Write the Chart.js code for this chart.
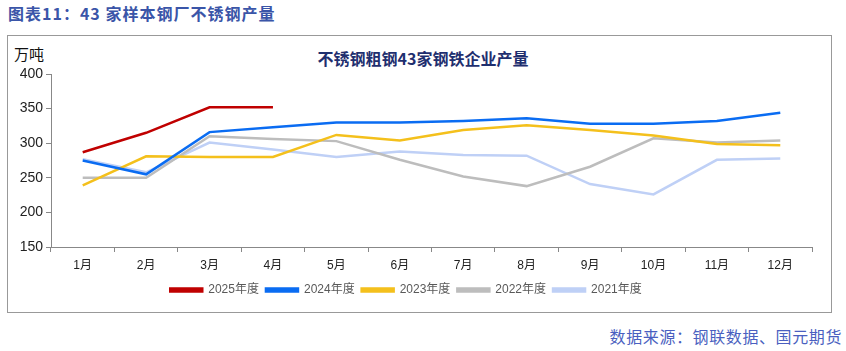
<!DOCTYPE html>
<html>
<head>
<meta charset="utf-8">
<script src="https://cdn.jsdelivr.net/npm/chart.js@4"></script>
<style>
  body { margin: 0; background: #fff; width: 846px; height: 351px; position: relative; overflow: hidden; }
  #fig-title { position: absolute; left: 8px; top: 1px; font: bold 16px "Noto Sans CJK SC"; color: #3a55a8; letter-spacing: 1px; }
  #box { position: absolute; left: 7px; top: 35px; width: 823px; height: 276px; border: 1px solid #999; }
  #chart-title { position: absolute; left: 0; width: 846px; top: 46px; text-align: center; font: bold 16px "Noto Sans CJK SC"; color: #1f2f6f; }
  #unit { position: absolute; left: 14px; top: 43px; font: 15px "Noto Sans CJK SC"; color: #111; }
  #source { position: absolute; right: 4px; top: 324px; font: 16px "Noto Sans CJK SC"; color: #4a5fc0; letter-spacing: 0.6px; }
  canvas { position: absolute; left: 0; top: 0; }
</style>
</head>
<body>
<div id="fig-title">图表11：43 家样本钢厂不锈钢产量</div>
<div id="box"></div>
<div id="chart-title">不锈钢粗钢43家钢铁企业产量</div>
<div id="unit">万吨</div>
<div id="source">数据来源：钢联数据、国元期货</div>
<canvas id="chart" width="846" height="351"></canvas>
<script>
document.addEventListener('DOMContentLoaded', () => {
    const months = ['1月', '2月', '3月', '4月', '5月', '6月', '7月', '8月', '9月', '10月', '11月', '12月'];
    const y2025 = [287, 315, 352, 352];
    const y2024 = [275, 255, 316, 323, 330, 330, 332, 336, 328, 328, 332, 344];
    const y2023 = [239, 281, 280, 280, 312, 304, 319, 326, 319, 311, 299, 297];
    const y2022 = [250, 250, 310, 306, 303, 276, 252, 238, 266, 307, 301, 304];
    const y2021 = [277, 258, 301, 291, 280, 288, 283, 282, 241, 226, 276, 278];

    const labels = ['2025年度', '2024年度', '2023年度', '2022年度', '2021年度'];
    const colors = ['#c00000', '#0a6cf2', '#f4c01c', '#bdbdbd', '#bfd0f6'];
    const series = [y2025, y2024, y2023, y2022, y2021];

    const axisColor = '#888';

    const datasets = series.map((data, i) => ({
        label: labels[i],
        data: data,
        borderColor: colors[i],
        backgroundColor: colors[i],
        borderWidth: 2.5,
        pointRadius: 0,
        tension: 0,
        fill: false
    }));

    new Chart(document.getElementById('chart').getContext('2d'), {
        type: 'line',
        data: { labels: months, datasets: datasets },
        options: {
            responsive: false,
            animation: false,
            layout: { padding: { left: 0, right: 34, top: 74, bottom: 45 } },
            plugins: {
                legend: {
                    position: 'bottom',
                    labels: {
                        boxWidth: 32,
                        boxHeight: 3,
                        padding: 7,
                        color: '#595959',
                        font: { family: 'Liberation Sans, Noto Sans CJK SC', size: 12 }
                    }
                },
                tooltip: { enabled: false }
            },
            scales: {
                x: {
                    offset: true,
                    grid: { offset: true, drawOnChartArea: false, tickLength: 5, color: axisColor },
                    border: { color: axisColor },
                    ticks: { color: '#222', font: { family: 'Liberation Sans, Noto Sans CJK SC', size: 12 }, padding: 6 },
                    afterFit: (scale) => { scale.height = 30; }
                },
                y: {
                    min: 150,
                    max: 400,
                    ticks: { stepSize: 50, color: '#222', font: { family: 'Liberation Sans', size: 14 }, padding: 3 },
                    grid: { drawOnChartArea: false, tickLength: 5, color: axisColor },
                    border: { color: axisColor },
                    afterFit: (scale) => { scale.width = 51; }
                }
            }
        }
    });
});
</script>
</body>
</html>
